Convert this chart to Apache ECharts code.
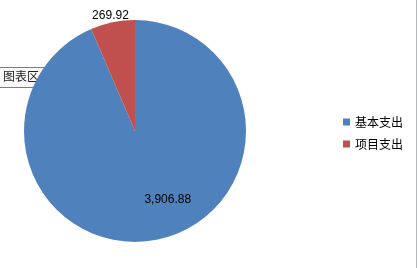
<!DOCTYPE html>
<html><head><meta charset="utf-8">
<style>html,body{margin:0;padding:0;background:#fff}#c{width:418px;height:268px}</style>
<script src="https://cdn.jsdelivr.net/npm/echarts@6/dist/echarts.min.js"></script>
</head><body><div id="c"></div>
<script>
var categories = ['基本支出', '项目支出'];
var values = [3906.88, 269.92];
var colors = ['#4F81BD', '#C0504D'];
var labelTexts = ['3,906.88', '269.92'];

var chart = echarts.init(document.getElementById('c'), null, {renderer: 'canvas'});
var data = categories.map(function (n, i) {
  var d = {name: n, value: values[i], itemStyle: {color: colors[i]}};
  if (i === 0) {
    d.label = {position: 'inside', offset: [21, 11]};
  } else {
    d.label = {position: 'outside', distance: 2, offset: [22, -3]};
    d.labelLine = {show: false, length: 4, length2: 0};
  }
  return d;
});
chart.setOption({
  animation: false,
  legend: {
    orient: 'vertical', left: 338, top: 111, itemWidth: 7, itemHeight: 7, itemGap: 10,
    icon: 'rect',
    textStyle: {fontFamily: 'Noto Sans CJK SC', fontSize: 12, color: '#000'},
    data: categories
  },
  series: [{
    type: 'pie', center: [135, 131], radius: [0, 111], startAngle: 90, clockwise: true,
    label: {
      show: true, color: '#000', fontSize: 12, fontFamily: 'Liberation Sans',
      formatter: function (p) { return labelTexts[p.dataIndex]; }
    },
    labelLine: {show: false},
    emphasis: {disabled: true},
    data: data
  }],
  graphic: [
    {type: 'line', shape: {x1: 416.5, y1: 0, x2: 416.5, y2: 268}, style: {stroke: '#b4bcbc', lineWidth: 1}},
    {type: 'rect', shape: {x: -3, y: 67.5, width: 49, height: 20, r: 2},
     style: {fill: '#fafafa', stroke: '#7c7c7c', lineWidth: 1}},
    {type: 'text', left: 3, top: 70, style: {text: '图表区', font: '12px "Noto Sans CJK SC"', fill: '#222'}}
  ]
});
</script></body></html>
